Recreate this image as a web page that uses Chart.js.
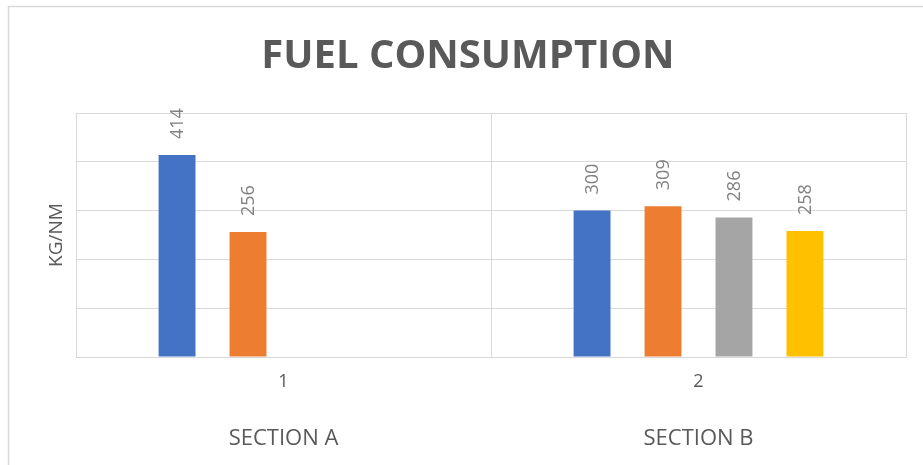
<!DOCTYPE html>
<html>
<head>
<meta charset="utf-8">
<title>Fuel consumption</title>
<script src="https://cdn.jsdelivr.net/npm/chart.js@4/dist/chart.umd.min.js"></script>
<style>
  html, body { margin: 0; padding: 0; background: #fff; }
  #wrap { position: relative; width: 923px; height: 465px; }
</style>
</head>
<body>
<div id="wrap"><canvas id="fuelChart"></canvas></div>
<script>
// Categorías (dos niveles) y series (kg/nm por sección)
const numeros = ['1', '2'];
const secciones = ['SECTION A', 'SECTION B'];
const serie1 = [414, 300];
const serie2 = [256, 309];
const serie3 = [null, 286];
const serie4 = [null, 258];
const yTicks = { min: 0, max: 500, step: 100 };

const colores = ['#4472C4', '#ED7D31', '#A5A5A5', '#FFC000'];
const gris = '#d9d9d9';

// Marco exterior del gráfico
const marco = {
    id: 'marco',
    beforeDraw(chart) {
        const c = chart.ctx;
        c.save();
        c.strokeStyle = gris;
        c.lineWidth = 1.5;
        c.beginPath();
        c.moveTo(8.5, chart.height);
        c.lineTo(8.5, 6.5);
        c.lineTo(chart.width, 6.5);
        c.stroke();
        c.restore();
    }
};

// Etiquetas de valor giradas encima de cada barra
const etiquetas = {
    id: 'etiquetas',
    afterDatasetsDraw(chart) {
        const c = chart.ctx;
        c.save();
        c.font = '18px "Open Sans"';
        c.fillStyle = '#808080';
        c.textAlign = 'left';
        c.textBaseline = 'middle';
        chart.data.datasets.forEach((ds, i) => {
            const meta = chart.getDatasetMeta(i);
            meta.data.forEach((bar, j) => {
                const v = ds.data[j];
                if (v === null || v === undefined) return;
                c.save();
                c.translate(bar.x + 1, bar.y - 16);
                c.rotate(-Math.PI / 2);
                c.fillText(String(v), 0, 0);
                c.restore();
            });
        });
        c.restore();
    }
};

const ctx = document.getElementById('fuelChart');
new Chart(ctx, {
    type: 'bar',
    data: {
        labels: numeros,
        datasets: [serie1, serie2, serie3, serie4].map((d, i) => ({
            label: 'Serie ' + (i + 1),
            data: d,
            backgroundColor: colores[i],
            borderWidth: 0,
            categoryPercentage: 0.684,
            barPercentage: 0.52
        }))
    },
    options: {
        responsive: true,
        maintainAspectRatio: false,
        animation: false,
        layout: { padding: { left: 30, right: 17, top: 0, bottom: 0 } },
        plugins: {
            legend: { display: false },
            tooltip: { enabled: false },
            title: {
                display: true,
                text: 'FUEL CONSUMPTION',
                color: '#595959',
                font: { family: 'Open Sans', size: 40, weight: 'bold', lineHeight: 1.2 },
                padding: { top: 33, bottom: 32 }
            }
        },
        scales: {
            x: {
                weight: 0,
                grid: { color: gris, offset: true, drawTicks: false },
                border: { color: gris },
                ticks: {
                    color: '#595959',
                    padding: 14,
                    font: { family: 'Open Sans', size: 18 }
                },
                afterFit(scale) { scale.height = 50; }
            },
            // segundo nivel de categorías
            x2: {
                type: 'category',
                labels: secciones,
                position: 'bottom',
                offset: true,
                weight: 1,
                grid: { display: false },
                border: { display: false },
                ticks: {
                    color: '#595959',
                    padding: 11,
                    font: { family: 'Open Sans', size: 22 }
                },
                afterFit(scale) { scale.height = 58; }
            },
            y: {
                min: yTicks.min,
                max: yTicks.max,
                ticks: { display: false, stepSize: yTicks.step },
                grid: { color: gris, drawTicks: false },
                border: { color: gris },
                title: {
                    display: true,
                    text: 'KG/NM',
                    color: '#595959',
                    font: { family: 'Open Sans', size: 19 },
                    padding: { top: 15, bottom: 0 }
                },
                afterFit(scale) { scale.width = 46; }
            }
        }
    },
    plugins: [marco, etiquetas]
});
</script>
</body>
</html>
